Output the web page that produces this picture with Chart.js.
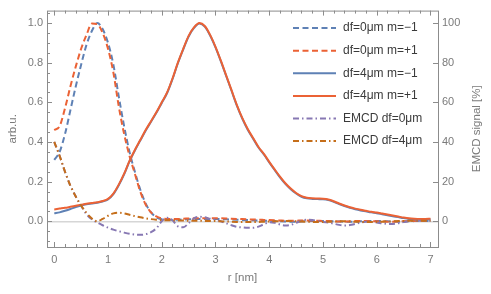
<!DOCTYPE html>
<html>
<head>
<meta charset="utf-8">
<script src="https://cdn.jsdelivr.net/npm/chart.js@4"></script>
<style>
  html, body { margin: 0; padding: 0; background: #fff; }
  #wrap { width: 491px; height: 294px; }
</style>
</head>
<body>
<div id="wrap"><canvas id="emcdChart" width="491" height="294"></canvas></div>
<script>
// radial coordinate r [nm]
const radius = [
  0, 0.1, 0.2, 0.3, 0.4, 0.5, 0.6, 0.7, 0.8, 0.9,
  1.0, 1.1, 1.2, 1.3, 1.4, 1.5, 1.6, 1.7, 1.8, 1.9,
  2.0, 2.1, 2.2, 2.3, 2.4, 2.5, 2.6, 2.7, 2.8, 2.9,
  3.0, 3.1, 3.2, 3.3, 3.4, 3.5, 3.6, 3.7, 3.8, 3.9,
  4.0, 4.1, 4.2, 4.3, 4.4, 4.5, 4.6, 4.7, 4.8, 4.9,
  5.0, 5.1, 5.2, 5.3, 5.4, 5.5, 5.6, 5.7, 5.8, 5.9,
  6.0, 6.1, 6.2, 6.3, 6.4, 6.5, 6.6, 6.7, 6.8, 6.9,
  7.0
];

// df=0um m=-1 (arb.u.)
const dfZeroMinus = [
  0.31, 0.35, 0.44, 0.56, 0.68, 0.79, 0.89, 0.96, 1.0, 0.97,
  0.90, 0.79, 0.63, 0.48, 0.35, 0.25, 0.16, 0.09, 0.045, 0.02,
  0.01, 0.008, 0.008, 0.008, 0.009, 0.01, 0.011, 0.012, 0.012, 0.012,
  0.012, 0.011, 0.01, 0.009, 0.008, 0.007, 0.006, 0.005, 0.004, 0.003,
  0.002, 0.001, 0, -0.001, -0.002, -0.002, -0.001, 0, 0.001, 0.002,
  0.002, 0.001, 0, -0.001, -0.002, -0.002, -0.001, 0, 0.001, 0.002,
  0.002, 0.001, 0, -0.001, -0.002, -0.001, 0, 0.001, 0.002, 0.002,
  0.002
];

// df=0um m=+1
const dfZeroPlus = [
  0.46, 0.48, 0.57, 0.68, 0.78, 0.87, 0.94, 0.997, 0.994, 0.95,
  0.87, 0.75, 0.58, 0.44, 0.33, 0.24, 0.15, 0.085, 0.045, 0.025,
  0.015, 0.012, 0.012, 0.012, 0.013, 0.014, 0.015, 0.016, 0.016, 0.016,
  0.016, 0.015, 0.014, 0.013, 0.012, 0.011, 0.01, 0.009, 0.008, 0.007,
  0.006, 0.005, 0.004, 0.003, 0.003, 0.003, 0.004, 0.004, 0.004, 0.003,
  0.002, 0.001, 0, -0.001, -0.001, 0, 0.001, 0.002, 0.002, 0.001,
  0, -0.001, -0.002, -0.002, -0.001, 0, 0.001, 0.002, 0.003, 0.003,
  0.003
];

// df=4um m=-1
const dfFourMinus = [
  0.04, 0.045, 0.053, 0.062, 0.072, 0.08, 0.086, 0.09, 0.094, 0.1,
  0.11, 0.137, 0.182, 0.237, 0.302, 0.357, 0.407, 0.457, 0.502, 0.547,
  0.597, 0.647, 0.717, 0.797, 0.867, 0.932, 0.975, 0.997, 0.982, 0.937,
  0.877, 0.807, 0.732, 0.657, 0.582, 0.517, 0.462, 0.417, 0.372, 0.337,
  0.297, 0.259, 0.222, 0.189, 0.162, 0.14, 0.124, 0.116, 0.113, 0.112,
  0.111, 0.107, 0.098, 0.087, 0.077, 0.068, 0.061, 0.055, 0.05, 0.045,
  0.041, 0.036, 0.031, 0.026, 0.021, 0.016, 0.012, 0.01, 0.009, 0.009,
  0.01
];

// df=4um m=+1
const dfFourPlus = [
  0.06, 0.064, 0.068, 0.073, 0.078, 0.083, 0.088, 0.092, 0.096, 0.102,
  0.113, 0.14, 0.185, 0.24, 0.305, 0.36, 0.41, 0.46, 0.505, 0.55,
  0.60, 0.65, 0.72, 0.80, 0.87, 0.935, 0.978, 1.0, 0.985, 0.94,
  0.88, 0.81, 0.735, 0.66, 0.585, 0.52, 0.465, 0.42, 0.375, 0.34,
  0.30, 0.262, 0.225, 0.192, 0.165, 0.143, 0.127, 0.119, 0.116, 0.115,
  0.114, 0.11, 0.101, 0.09, 0.08, 0.071, 0.064, 0.058, 0.053, 0.048,
  0.044, 0.039, 0.034, 0.029, 0.024, 0.019, 0.015, 0.013, 0.012, 0.012,
  0.013
];

// EMCD df=0um (fraction, right axis shows it in %)
const emcdZero = [
  0.40, 0.33, 0.25, 0.18, 0.125, 0.078, 0.036, 0.01, -0.006, -0.02,
  -0.032, -0.042, -0.05, -0.057, -0.063, -0.067, -0.068, -0.065, -0.055, -0.035,
  0.0, 0.018, 0.005, -0.025, -0.03, -0.01, 0.015, 0.023, 0.02, 0.013,
  0.008, 0.0, -0.01, -0.02, -0.028, -0.031, -0.033, -0.033, -0.027, -0.015,
  -0.005, -0.008, -0.016, -0.021, -0.018, -0.008, 0.003, 0.008, 0.006, 0.002,
  -0.004, -0.006, -0.012, -0.018, -0.021, -0.019, -0.013, -0.006, -0.002, -0.003,
  -0.006, -0.01, -0.013, -0.013, -0.01, -0.004, 0.001, 0.003, 0.003, 0.003,
  0.003
];

// EMCD df=4um
const emcdFour = [
  0.40, 0.33, 0.25, 0.18, 0.125, 0.08, 0.042, 0.014, 0.0, 0.012,
  0.028, 0.04, 0.043, 0.04, 0.033, 0.026, 0.02, 0.015, 0.011, 0.008,
  0.006, 0.005, 0.005, 0.004, 0.004, 0.003, 0.003, 0.003, 0.002, 0.002,
  0.001, 0, -0.001, -0.002, -0.003, -0.004, -0.004, -0.004, -0.003, -0.002,
  -0.001, 0, 0.001, 0.001, 0.001, 0, -0.001, -0.002, -0.003, -0.003,
  -0.003, -0.002, -0.001, 0, 0, -0.001, -0.002, -0.003, -0.004, -0.004,
  -0.003, -0.002, -0.001, 0, 0.001, 0.002, 0.003, 0.003, 0.003, 0.003,
  0.003
];

const seriesLabels = [
  'df=0μm m=−1', 'df=0μm m=+1', 'df=4μm m=−1',
  'df=4μm m=+1', 'EMCD df=0μm', 'EMCD df=4μm'
];

// tick labels
const xTicks = [0, 1, 2, 3, 4, 5, 6, 7];
const leftTicks = [0, 0.2, 0.4, 0.6, 0.8, 1.0];
const rightTicks = [0, 20, 40, 60, 80, 100];

const BLUE = '#5E81B5';
const RED = '#EB6235';
const PURPLE = '#8778B3';
const ORANGE = '#C56E1A';
const DASH = [6, 3.5];
const DOTDASH = [6, 3, 1.5, 3];
const FONT = '"Liberation Sans", Arial, sans-serif';

function toPoints(values) {
  return radius.map((r, i) => ({ x: r, y: values[i] }));
}

// later series are drawn on top, like in the original
function line(idx, values, color, dash) {
  return {
    label: seriesLabels[idx],
    data: toPoints(values),
    order: seriesLabels.length - idx,
    borderColor: color,
    backgroundColor: color,
    borderWidth: 2,
    borderDash: dash,
    borderCapStyle: 'butt',
    pointRadius: 0,
    fill: false,
    cubicInterpolationMode: 'monotone'
  };
}

// frame, inward ticks, axis titles and legend like the original plot
const framePlugin = {
  id: 'frame',
  afterDraw(chart) {
    const { ctx, chartArea: a, scales } = chart;
    ctx.save();
    ctx.strokeStyle = '#8c8c8c';
    ctx.lineWidth = 1;
    ctx.strokeRect(a.left + 0.5, a.top + 0.5, a.right - a.left, a.bottom - a.top);

    ctx.beginPath();
    // x ticks (bottom and top), major every 1, minor every 0.2
    for (let k = 0; k <= 35; k++) {
      const v = k / 5;
      const px = Math.round(scales.x.getPixelForValue(v)) + 0.5;
      const len = k % 5 === 0 ? 5 : 3;
      ctx.moveTo(px, a.bottom); ctx.lineTo(px, a.bottom - len);
      ctx.moveTo(px, a.top); ctx.lineTo(px, a.top + len);
    }
    // left y ticks, major 0.2 minor 0.05
    for (let k = -2; k <= 21; k++) {
      const v = k * 0.05;
      const py = Math.round(scales.y.getPixelForValue(v)) + 0.5;
      const len = k % 4 === 0 ? 5 : 3;
      ctx.moveTo(a.left, py); ctx.lineTo(a.left + len, py);
    }
    // right ticks, major only
    rightTicks.forEach(v => {
      const py = Math.round(scales.y2.getPixelForValue(v)) + 0.5;
      ctx.moveTo(a.right, py); ctx.lineTo(a.right - 5, py);
    });
    ctx.stroke();

    // axis titles
    ctx.fillStyle = '#7a7a7a';
    ctx.font = '11.5px ' + FONT;
    ctx.textAlign = 'center';
    ctx.textBaseline = 'middle';
    const cy = (a.top + a.bottom) / 2;
    ctx.fillText('r [nm]', (a.left + a.right) / 2, a.bottom + 31);
    ctx.save();
    ctx.translate(a.left - 34, cy);
    ctx.rotate(-Math.PI / 2);
    ctx.fillText('arb.u.', 0, 0);
    ctx.restore();
    ctx.save();
    ctx.translate(a.right + 39, cy);
    ctx.rotate(-Math.PI / 2);
    ctx.fillText('EMCD signal [%]', 0, 0);
    ctx.restore();

    // legend
    ctx.textAlign = 'left';
    ctx.font = '12px ' + FONT;
    chart.data.datasets.forEach((ds, i) => {
      const y = a.top + 17.5 + i * 22.6;
      ctx.beginPath();
      ctx.setLineDash(ds.borderDash);
      ctx.strokeStyle = ds.borderColor;
      ctx.lineWidth = 2;
      ctx.moveTo(a.right - 145, y);
      ctx.lineTo(a.right - 102, y);
      ctx.stroke();
      ctx.setLineDash([]);
      ctx.fillStyle = '#3a3a3a';
      ctx.fillText(ds.label, a.right - 95, y);
    });
    ctx.restore();
  }
};

function createChart() {
  const ctx = document.getElementById('emcdChart').getContext('2d');
  new Chart(ctx, {
    type: 'line',
    data: {
      datasets: [
        line(0, dfZeroMinus, BLUE, DASH),
        line(1, dfZeroPlus, RED, DASH),
        line(2, dfFourMinus, BLUE, []),
        line(3, dfFourPlus, RED, []),
        line(4, emcdZero, PURPLE, DOTDASH),
        line(5, emcdFour, ORANGE, DOTDASH)
      ]
    },
    options: {
      responsive: false,
      animation: false,
      layout: { padding: { top: 5, left: 0, right: 0, bottom: 0 } },
      plugins: {
        legend: { display: false },
        tooltip: { enabled: false }
      },
      scales: {
        x: {
          type: 'linear',
          min: -0.135,
          max: 7.14,
          afterBuildTicks: s => { s.ticks = xTicks.map(v => ({ value: v })); },
          afterFit: s => { s.height = 47; },
          grid: { display: false, drawTicks: false },
          border: { display: false },
          ticks: { color: '#7a7a7a', font: { family: FONT, size: 11 }, padding: 6, maxRotation: 0 }
        },
        y: {
          type: 'linear',
          position: 'left',
          min: -0.1296,
          max: 1.0626,
          afterBuildTicks: s => { s.ticks = leftTicks.map(v => ({ value: v })); },
          afterFit: s => { s.width = 47; },
          grid: {
            drawTicks: false,
            color: c => (c.tick && c.tick.value === 0 ? '#d6d6d6' : 'rgba(0,0,0,0)'),
            lineWidth: 1.5
          },
          border: { display: false },
          ticks: {
            color: '#7a7a7a',
            font: { family: FONT, size: 11 },
            padding: 4,
            callback: v => v.toFixed(1)
          }
        },
        y2: {
          type: 'linear',
          position: 'right',
          min: -12.96,
          max: 106.26,
          afterBuildTicks: s => { s.ticks = rightTicks.map(v => ({ value: v })); },
          afterFit: s => { s.width = 53; },
          grid: { display: false, drawTicks: false },
          border: { display: false },
          ticks: { color: '#7a7a7a', font: { family: FONT, size: 11 }, padding: 4 }
        }
      }
    },
    plugins: [framePlugin]
  });
}

document.addEventListener('DOMContentLoaded', createChart);
</script>
</body>
</html>
